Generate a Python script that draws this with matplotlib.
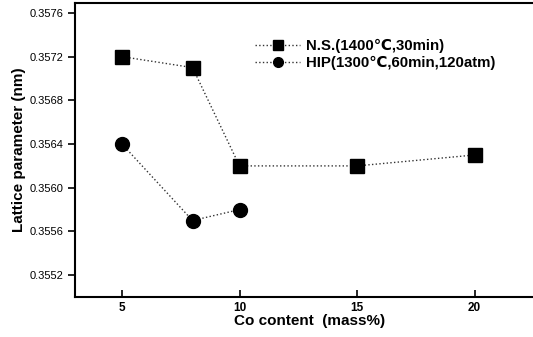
import matplotlib
matplotlib.use('Agg')
import matplotlib.pyplot as plt

plt.rcParams['font.family'] = ['Liberation Sans', 'DejaVu Sans']

# lattice parameter vs Co content
co_ns = [5, 8, 10, 15, 20]
lat_ns = [0.3572, 0.3571, 0.3562, 0.3562, 0.3563]
co_hip = [5, 8, 10]
lat_hip = [0.3564, 0.3557, 0.3558]
xticks = [5, 10, 15, 20]
yticks = [0.3552, 0.3556, 0.3560, 0.3564, 0.3568, 0.3572, 0.3576]

fig = plt.figure(figsize=(5.33, 3.37), dpi=100)
ax = fig.add_axes([0.1407, 0.1187, 0.882, 0.872])

ax.plot(co_ns, lat_ns, linestyle=':', color='#333333', lw=1.0,
        marker='s', ms=9.5, mfc='black', mec='black',
        label='N.S.(1400\u2103,30min)')
ax.plot(co_hip, lat_hip, linestyle=':', color='#333333', lw=1.0,
        marker='o', ms=10, mfc='black', mec='black',
        label='HIP(1300\u2103,60min,120atm)')

ax.set_xlim(3, 23)
ax.set_ylim(0.3550, 0.35769)
ax.set_xticks(xticks)
ax.set_xticklabels([str(v) for v in xticks], fontsize=8.5, fontweight='bold')
ax.set_yticks(yticks)
ax.set_yticklabels([f'{v:.4f}' for v in yticks], fontsize=8)
ax.tick_params(axis='x', direction='in', length=5, width=1.2)
ax.tick_params(axis='y', direction='out', length=5, width=1.2)
for s in ax.spines.values():
    s.set_linewidth(1.5)

ax.set_xlabel('Co content  (mass%)', fontsize=11, fontweight='bold', labelpad=0)
ax.set_ylabel('Lattice parameter (nm)', fontsize=11, fontweight='bold', labelpad=2)

ax.legend(loc='upper left', bbox_to_anchor=(0.355, 0.925), frameon=False,
          prop={'size': 10.8, 'weight': 'bold'}, handlelength=3.0,
          handletextpad=0.4, labelspacing=0.2, markerscale=0.7)

fig.savefig('out.png', dpi=100)
plt.close(fig)
